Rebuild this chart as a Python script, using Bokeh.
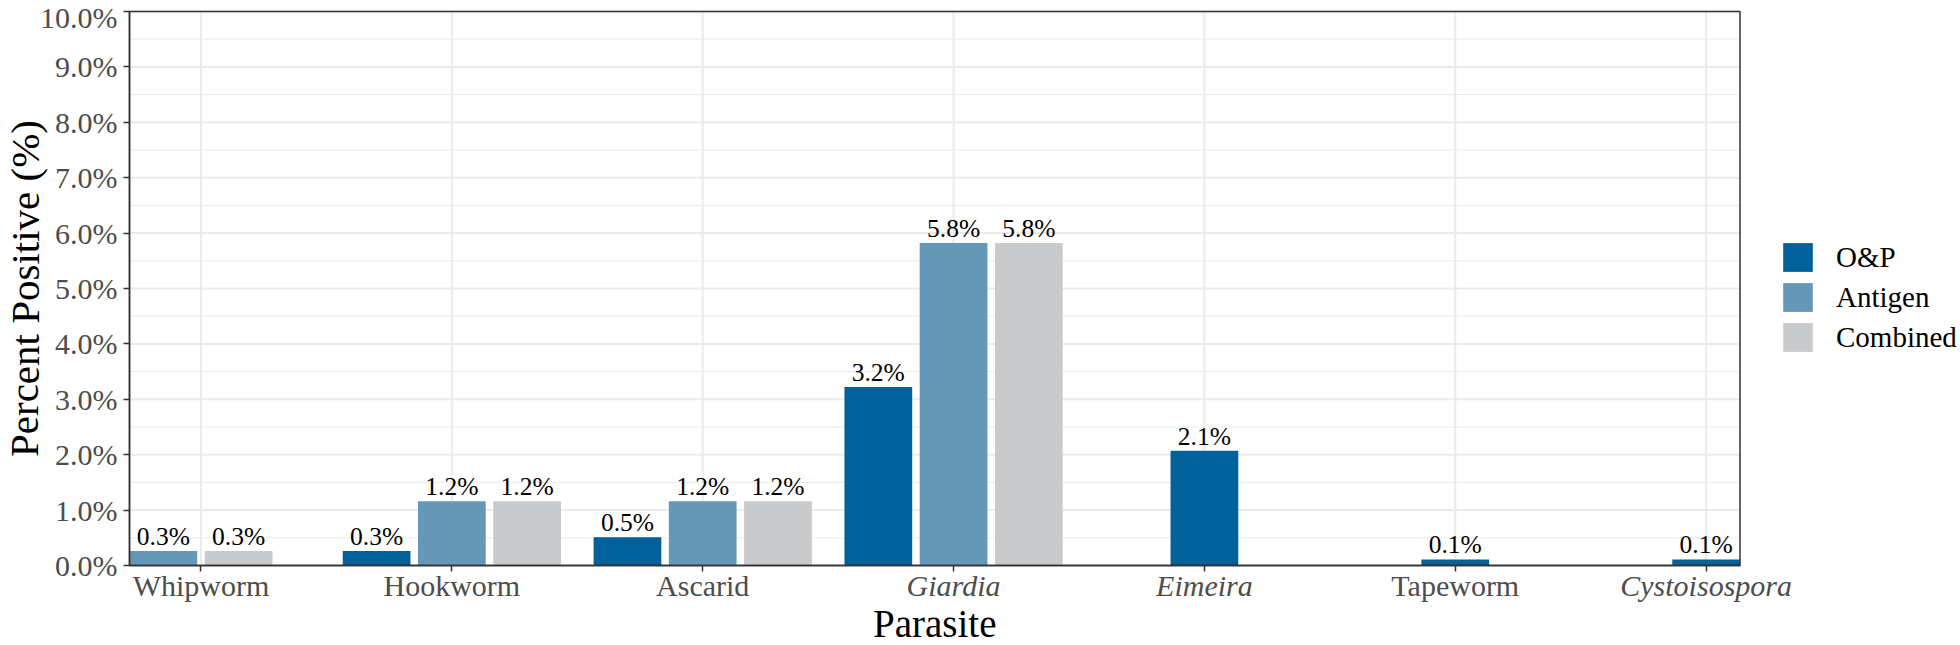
from bokeh.plotting import figure
from bokeh.models import (Range1d, FixedTicker, PrintfTickFormatter,
                          Legend, LegendItem, ColumnDataSource)
from bokeh.core.properties import value
from bokeh.embed import file_html
from bokeh.resources import INLINE

# ---------------- data ----------------
categories = ["Whipworm", "Hookworm", "Ascarid", "Giardia", "Eimeira",
              "Tapeworm", "Cystoisospora"]
italic_categories = ["Giardia", "Eimeira", "Cystoisospora"]
series_names = ["O&P", "Antigen", "Combined"]
op_values = [None, 0.26, 0.51, 3.22, 2.07, 0.11, 0.11]
antigen_values = [0.26, 1.16, 1.16, 5.82, None, None, None]
combined_values = [0.26, 1.16, 1.16, 5.82, None, None, None]
series_colors = ["#00619B", "#6598B6", "#C9CACC"]
y_ticks = [0, 1, 2, 3, 4, 5, 6, 7, 8, 9, 10]
y_minor = [0.5, 1.5, 2.5, 3.5, 4.5, 5.5, 6.5, 7.5, 8.5, 9.5]
x_title = "Parasite"
y_title = "Percent Positive (%)"

series_values = [op_values, antigen_values, combined_values]

FONT = "Liberation Serif"
DODGE = 0.3
BAR_W = 0.27
X0, X1 = 0.715, 7.135      # panel x limits (data)
Y0, Y1 = 0, 10             # panel y limits (data)

# canvas geometry (pixels)
W, H = 1960, 645
PL, PR, PT, PB = 129, 1739.5, 11, 565   # panel edges on the canvas

kx = (PR - PL) / (X1 - X0)
ky = (PB - PT) / (Y1 - Y0)
x_start = X0 - PL / kx
x_end = x_start + W / kx
y_start = Y0 - (H - PB) / ky
y_end = Y1 + PT / ky


def px_to_y(py):
    return Y0 + (PB - py) / ky


p = figure(width=W, height=H, output_backend="svg", toolbar_location=None,
           x_range=Range1d(x_start, x_end), y_range=Range1d(y_start, y_end),
           min_border=0, outline_line_color=None,
           background_fill_color="white", border_fill_color="white")
p.grid.visible = False

# ---- panel grid ----
p.segment(x0=[X0] * len(y_minor), x1=[X1] * len(y_minor), y0=y_minor,
          y1=y_minor, line_color="#EBEBEB", line_width=1)
p.segment(x0=[X0] * len(y_ticks), x1=[X1] * len(y_ticks), y0=y_ticks,
          y1=y_ticks, line_color="#EBEBEB", line_width=2)
cat_pos = list(range(1, len(categories) + 1))
p.segment(x0=cat_pos, x1=cat_pos, y0=[Y0] * len(cat_pos),
          y1=[Y1] * len(cat_pos), line_color="#EBEBEB", line_width=2)

# ---- bars (dodged like ggplot position_dodge2, only present bars) ----
src = {s: dict(x=[], top=[], label=[]) for s in series_names}
for ci, cat in enumerate(categories):
    present = [si for si in range(3) if series_values[si][ci] is not None]
    n = len(present)
    for k, si in enumerate(present):
        v = series_values[si][ci]
        xpos = ci + 1 + (k - (n - 1) / 2) * DODGE
        src[series_names[si]]["x"].append(xpos)
        src[series_names[si]]["top"].append(v)
        src[series_names[si]]["label"].append(f"{v:.1f}%")

renderers = []
for s, col in zip(series_names, series_colors):
    cds = ColumnDataSource(src[s])
    r = p.vbar(x="x", top="top", bottom=Y0, width=BAR_W, source=cds,
               fill_color=col, line_color=None)
    renderers.append(r)
    p.text(x="x", y="top", text="label", source=cds, text_align="center",
           text_baseline="bottom", text_font=value(FONT),
           text_font_size="25.5px", text_color="black")

# panel border
p.quad(left=[X0], right=[X1], bottom=[Y0], top=[Y1], fill_color=None,
       line_color="#333333", line_width=1.5)

# ---- axes (fixed at the panel edges) ----
p.xaxis.fixed_location = Y0
p.xaxis.bounds = (X0, X1)
p.xaxis.ticker = FixedTicker(ticks=cat_pos)
p.xaxis.major_label_overrides = {c: "" for c in cat_pos}
p.xaxis.major_label_text_font_size = "1px"
p.yaxis.fixed_location = X0
p.yaxis.bounds = (Y0, Y1)
p.yaxis.ticker = FixedTicker(ticks=y_ticks, minor_ticks=y_minor)
p.yaxis.formatter = PrintfTickFormatter(format="%.1f%%")
for ax in (p.xaxis, p.yaxis):
    ax.axis_line_color = "#333333"
    ax.axis_line_width = 1.5
    ax.major_tick_line_color = "#333333"
    ax.major_tick_line_width = 1.5
    ax.major_tick_out = 6
    ax.major_tick_in = 0
    ax.minor_tick_line_color = None
    ax.major_label_text_font = FONT
p.yaxis.major_label_text_font_size = "30px"
p.yaxis.major_label_text_color = "#4D4D4D"
p.yaxis.major_label_standoff = 6

# ---- category labels (some italic) ----
cat_bottom_px = 601          # bottom of text box (baseline ~595)
normal_x = [i + 1 for i, c in enumerate(categories) if c not in italic_categories]
normal_t = [c for c in categories if c not in italic_categories]
ital_x = [i + 1 for i, c in enumerate(categories) if c in italic_categories]
ital_t = [c for c in categories if c in italic_categories]
p.text(x=normal_x, y=[px_to_y(cat_bottom_px)] * len(normal_x), text=normal_t,
       text_align="center", text_baseline="bottom", text_font=value(FONT),
       text_font_size="30px", text_color="#4D4D4D")
p.text(x=ital_x, y=[px_to_y(cat_bottom_px)] * len(ital_x), text=ital_t,
       text_align="center", text_baseline="bottom", text_font=value(FONT),
       text_font_style="italic", text_font_size="30px", text_color="#4D4D4D")

# ---- axis titles ----
p.text(x=[(X0 + X1) / 2], y=[px_to_y(644)], text=[x_title],
       text_align="center", text_baseline="bottom", text_font=value(FONT),
       text_font_size="39px", text_color="black")
p.text(x=[x_start + 24 / kx], y=[(Y0 + Y1) / 2], text=[y_title],
       angle=1.5707963, text_align="center", text_baseline="middle",
       text_font=value(FONT), text_font_size="41px", text_color="black")

# ---- legend ----
legend = Legend(items=[LegendItem(label=s, renderers=[r])
                       for s, r in zip(series_names, renderers)],
                location=(1779, H - 355), orientation="vertical",
                glyph_width=37, glyph_height=36, label_height=36,
                label_standoff=20, spacing=4, padding=0, margin=0,
                border_line_color=None, background_fill_alpha=0,
                label_text_font=FONT, label_text_font_size="29px",
                label_text_color="black", label_text_baseline="middle")
p.add_layout(legend, "center")

open("out.html", "w").write(file_html(p, INLINE))
